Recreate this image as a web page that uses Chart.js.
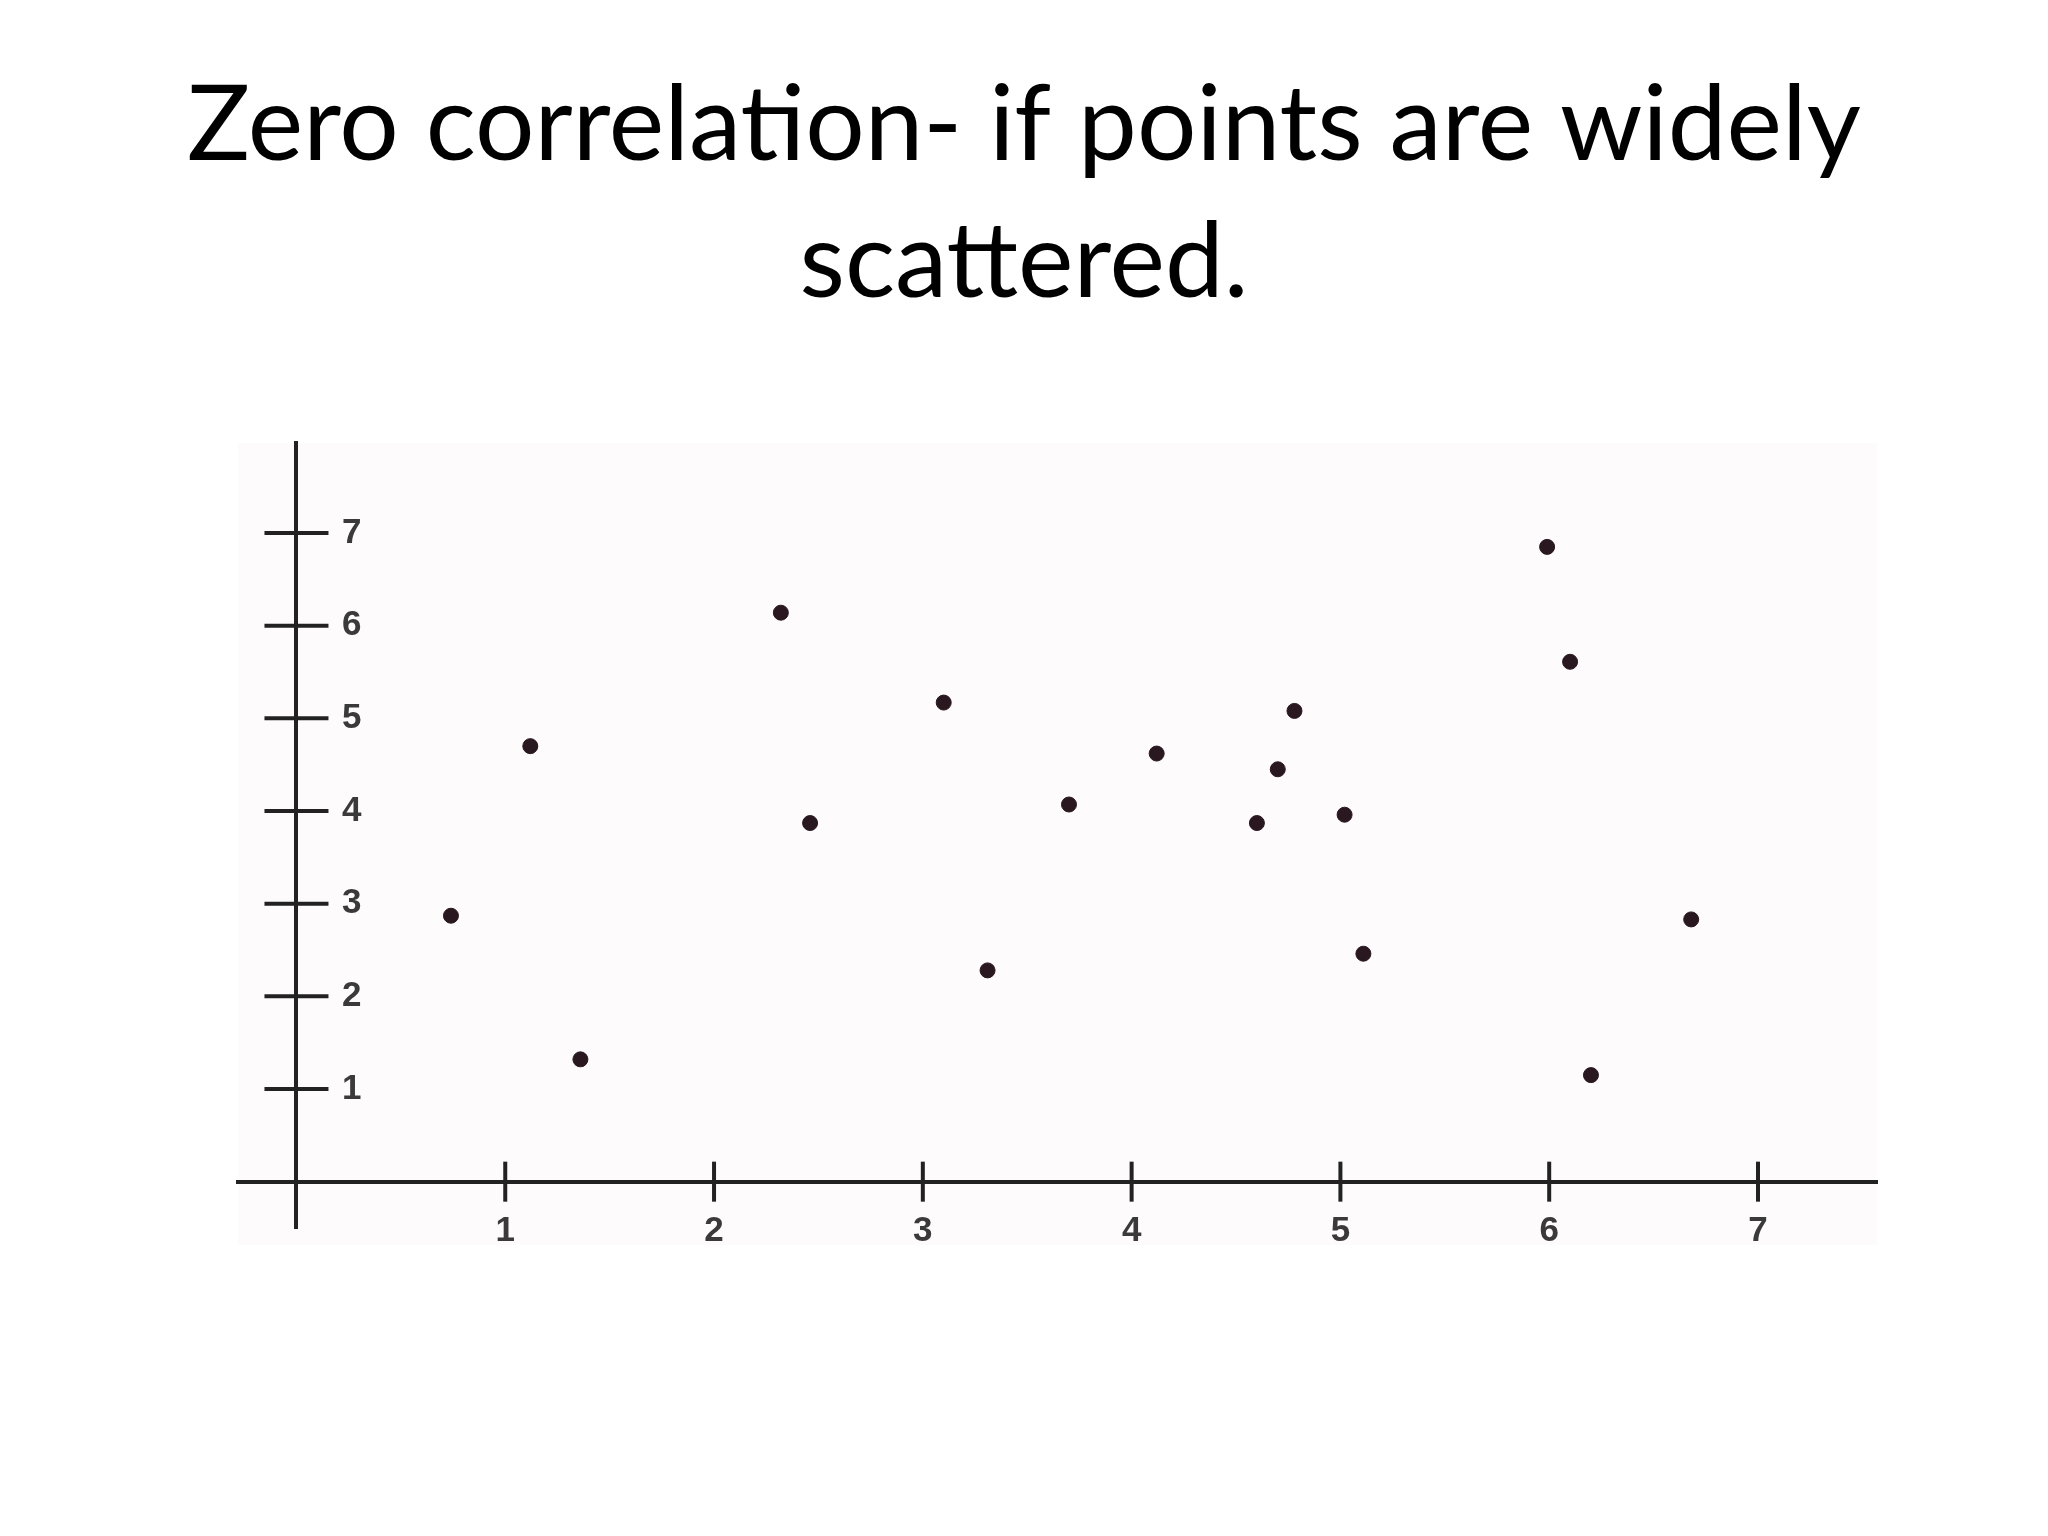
<!DOCTYPE html>
<html>
<head>
<meta charset="utf-8">
<script src="https://cdn.jsdelivr.net/npm/chart.js@4.4.1/dist/chart.umd.min.js"></script>
<style>
  body { margin: 0; background: #ffffff; }
  #wrap { width: 2048px; height: 1536px; position: relative; }
</style>
</head>
<body>
<div id="wrap"><canvas id="zeroCorr"></canvas></div>
<script>
let titleLines = ['Zero correlation- if points are widely', 'scattered.']
let xValues = [0.74, 1.12, 1.36, 2.32, 2.46, 3.10, 3.31, 3.70, 4.12, 4.60, 4.70, 4.78, 5.02, 5.11, 5.99, 6.10, 6.20, 6.68]
let yValues = [2.87, 4.70, 1.32, 6.14, 3.87, 5.17, 2.28, 4.07, 4.62, 3.87, 4.45, 5.08, 3.96, 2.46, 6.85, 5.61, 1.15, 2.83]
let tickValues = [1, 2, 3, 4, 5, 6, 7]

let points = xValues.map((x, i) => ({ x: x, y: yValues[i] }))

// faint plot background + crossing tick marks like the hand drawn axes
let axisCrosses = {
  id: 'axisCrosses',
  beforeDraw(chart) {
    let { ctx, chartArea } = chart
    ctx.save()
    ctx.fillStyle = '#fdfbfc'
    ctx.fillRect(chartArea.left, chartArea.top, chartArea.right - chartArea.left, chartArea.bottom - chartArea.top + 17)
    ctx.restore()
  },
  afterDraw(chart) {
    let { ctx, scales } = chart
    let x0 = scales.x.getPixelForValue(0)
    let y0 = scales.y.getPixelForValue(0)
    ctx.save()
    ctx.strokeStyle = '#222'
    ctx.lineWidth = 4
    tickValues.forEach(v => {
      let px = scales.x.getPixelForValue(v)
      ctx.beginPath()
      ctx.moveTo(px, y0 - 20)
      ctx.lineTo(px, y0 + 20)
      ctx.stroke()
      let py = scales.y.getPixelForValue(v)
      ctx.beginPath()
      ctx.moveTo(x0 - 32, py)
      ctx.lineTo(x0 + 32, py)
      ctx.stroke()
    })
    ctx.restore()
  }
}

let tickFont = { family: 'Liberation Sans', size: 35, weight: 'bold' }
let useTickValues = function (scale) {
  scale.ticks = tickValues.map(v => ({ value: v }))
}

let zeroCorr = new Chart(document.querySelector('#zeroCorr'), {
  type: 'scatter',
  plugins: [axisCrosses],
  data: {
    datasets: [{
      data: points,
      backgroundColor: '#2a1820',
      borderColor: '#2a1820',
      pointRadius: 7.5,
      pointHoverRadius: 7.5
    }]
  },
  options: {
    responsive: true,
    maintainAspectRatio: false,
    animation: false,
    layout: {
      padding: {
        top: 0,
        left: 171,
        right: 171,
        bottom: 308
      }
    },
    scales: {
      x: {
        type: 'linear',
        min: -0.28,
        max: 7.57,
        position: { y: 0 },
        afterBuildTicks: useTickValues,
        border: {
          color: '#222',
          width: 4
        },
        grid: {
          display: false,
          drawTicks: false
        },
        ticks: {
          autoSkip: false,
          maxRotation: 0,
          padding: 29,
          color: '#3a3a3a',
          font: tickFont
        }
      },
      // axis line sits at x = 0
      y: {
        type: 'linear',
        min: -0.5,
        max: 7.97,
        position: { x: 0 },
        border: {
          color: '#222',
          width: 4
        },
        grid: {
          display: false,
          drawTicks: false
        },
        ticks: {
          display: false
        }
      },
      // labels only, drawn to the right of the axis line
      yLabels: {
        type: 'linear',
        min: -0.5,
        max: 7.97,
        position: 'left',
        afterBuildTicks: useTickValues,
        afterFit: function (scale) {
          scale.width = 67
        },
        border: {
          display: false
        },
        grid: {
          display: false,
          drawTicks: false
        },
        ticks: {
          autoSkip: false,
          mirror: true,
          padding: 104,
          color: '#3a3a3a',
          font: tickFont
        }
      }
    },
    plugins: {
      legend: {
        display: false
      },
      tooltip: {
        enabled: false
      },
      title: {
        display: true,
        text: titleLines,
        color: '#000',
        font: {
          family: 'Lato',
          size: 105,
          weight: 'normal',
          lineHeight: 1.31
        },
        padding: {
          top: 57,
          bottom: 111
        }
      }
    }
  }
})
</script>
</body>
</html>
